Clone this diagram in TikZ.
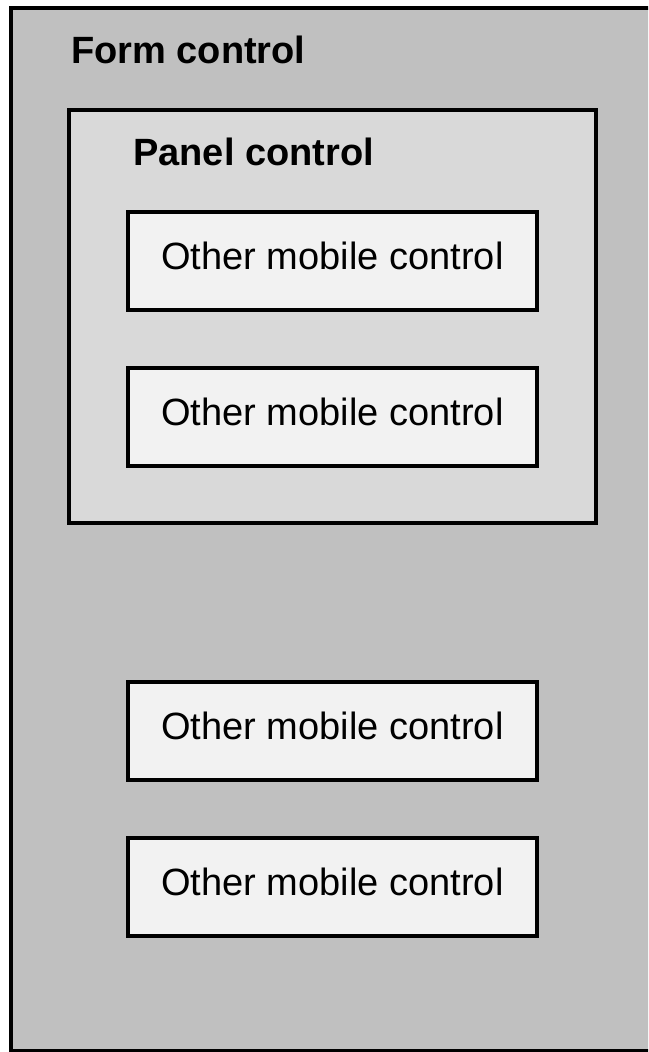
\documentclass[tikz,border=0pt]{standalone}
\usepackage{fontspec}
\setmainfont{Liberation Sans}
\definecolor{formgray}{HTML}{C0C0C0}
\definecolor{panelgray}{HTML}{D9D9D9}
\definecolor{boxgray}{HTML}{F2F2F2}
\begin{document}
\begin{tikzpicture}[x=1pt,y=-1pt,
  frame/.style={draw=black,line width=3.5pt,line join=miter},
  mobilebox/.style={frame,fill=boxgray,rectangle,inner sep=0pt,
    minimum width=409pt,text height=58pt,text depth=40pt,
    font=\fontsize{38}{46}\selectfont},
  titletext/.style={anchor=base west,inner sep=0pt,font=\fontsize{38}{46}\selectfont\bfseries}]
\useasboundingbox (0,0) rectangle (648,1052);
\fill[white] (0,0) rectangle (648,1052);
\clip (0,0) rectangle (648,1052);
\draw[frame,fill=formgray] (11,8) rectangle (680,1051);
\node[titletext] (formtitle) at (71,63) {Form control};
\draw[frame,fill=panelgray] (69,110) rectangle (596,523);
\node[titletext] (paneltitle) at (133,165) {Panel control};
\node[mobilebox,anchor=north] (m1) at (332.5,210) {Other mobile control};
\node[mobilebox,anchor=north] (m2) at (332.5,366) {Other mobile control};
\node[mobilebox,anchor=north] (m3) at (332.5,680) {Other mobile control};
\node[mobilebox,anchor=north] (m4) at (332.5,836) {Other mobile control};
\end{tikzpicture}
\end{document}
